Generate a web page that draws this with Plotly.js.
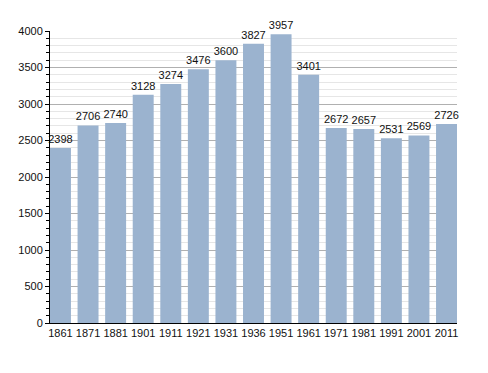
<!DOCTYPE html>
<html><head><meta charset="utf-8">
<script src="https://cdn.plot.ly/plotly-3.0.1.min.js"></script>
<style>html,body{margin:0;padding:0;background:#fff}</style>
</head><body>
<div id="chart" style="width:488px;height:373px"></div>
<script>
const years = ["1861","1871","1881","1901","1911","1921","1931","1936","1951","1961","1971","1981","1991","2001","2011"];
const population = [2398,2706,2740,3128,3274,3476,3600,3827,3957,3401,2672,2657,2531,2569,2726];
const yTicks = [0,500,1000,1500,2000,2500,3000,3500,4000];

const idx = years.map((_, i) => i);
Plotly.newPlot('chart', [{
  type: 'bar',
  x: idx,
  y: population,
  width: 0.76,
  marker: {color: '#9bb3cf'},
  text: population.map(String),
  textposition: 'outside',
  constraintext: 'none',
  cliponaxis: false,
  textfont: {family: 'Liberation Sans, Arial, sans-serif', size: 11, color: '#111'},
  hoverinfo: 'none'
}], {
  width: 488, height: 373,
  margin: {l: 50, r: 30.5, t: 30.7, b: 50.3},
  paper_bgcolor: '#fff', plot_bgcolor: '#fff',
  showlegend: false,
  font: {family: 'Liberation Sans, Arial, sans-serif', size: 11, color: '#111'},
  xaxis: {
    range: [-0.38, 14.38],
    tickmode: 'array', tickvals: idx, ticktext: years,
    showline: true, linecolor: '#000', linewidth: 1,
    ticks: '', showgrid: false, zeroline: false,
    tickfont: {size: 11}, fixedrange: true
  },
  yaxis: {
    range: [0, 4000],
    tickmode: 'array', tickvals: yTicks,
    showline: true, linecolor: '#000', linewidth: 1,
    ticks: 'outside', ticklen: 4, tickcolor: '#000',
    showgrid: true, gridcolor: '#b0b0b0', gridwidth: 1,
    zeroline: false,
    minor: {dtick: 100, ticks: 'outside', ticklen: 3, tickcolor: '#000', showgrid: true, gridcolor: '#e6e6e6'},
    tickfont: {size: 11}, fixedrange: true
  }
}, {displayModeBar: false, staticPlot: true});
</script>
</body></html>
